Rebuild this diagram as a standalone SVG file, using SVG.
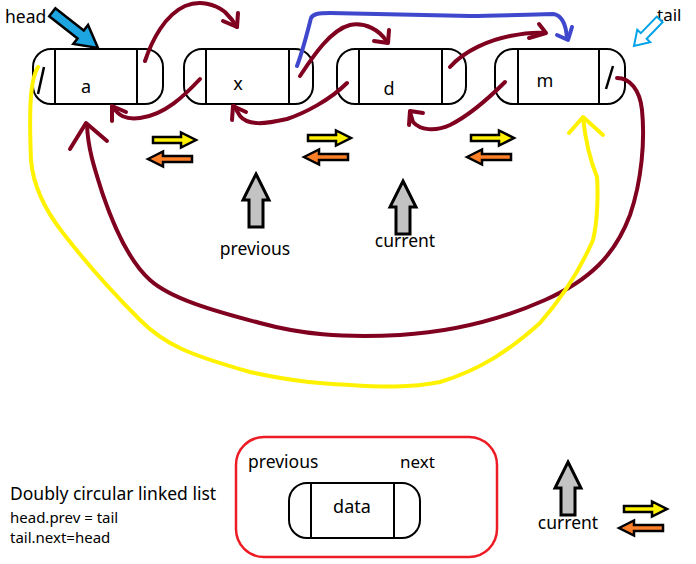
<svg xmlns="http://www.w3.org/2000/svg" width="696" height="564" viewBox="0 0 696 564">
<style>
.box{fill:#fff;stroke:#000;stroke-width:2}
.div{stroke:#000;stroke-width:2}
.t{font-family:"Noto Sans","Open Sans",sans-serif;fill:#000}
.mr{fill:none;stroke:#800020;stroke-width:4;stroke-linecap:round;stroke-linejoin:round}
.yl{fill:none;stroke:#fff200;stroke-width:4;stroke-linecap:round;stroke-linejoin:round}
.bl{fill:none;stroke:#3f48cc;stroke-width:4;stroke-linecap:round;stroke-linejoin:round}
.ya{fill:#fff200;stroke:#000;stroke-width:2.5;stroke-linejoin:miter}
.oa{fill:#ff7f27;stroke:#000;stroke-width:2.5;stroke-linejoin:miter}
.ga{fill:#c3c3c3;stroke:#000;stroke-width:3}
</style>
<defs>
<path id="yarr" d="M0,-3 H28 V-7.5 L43,0 L28,7.5 V3 H0 Z"/>
<path id="oarr" d="M0,0 L15,-7.5 V-3 H44 V3 H15 V7.5 Z"/>
<path id="garr" d="M0,0 L13,26 H7 V53 H-7 V26 H-13 Z"/>
</defs>
<rect width="696" height="564" fill="#fff"/>

<g id="node-a">
<rect class="box" x="33" y="49" width="130" height="55" rx="18"/>
<line class="div" x1="55" y1="49" x2="55" y2="104"/>
<line class="div" x1="137" y1="49" x2="137" y2="104"/>
<line stroke="#000" stroke-width="2.5" x1="38" y1="94" x2="44" y2="67"/>
<text class="t" x="86" y="93" font-size="18" text-anchor="middle">a</text>
</g>
<g id="node-x">
<rect class="box" x="184" y="49" width="129" height="55" rx="18"/>
<line class="div" x1="206" y1="49" x2="206" y2="104"/>
<line class="div" x1="289" y1="49" x2="289" y2="104"/>
<text class="t" x="238" y="90" font-size="18" text-anchor="middle">x</text>
</g>
<g id="node-d">
<rect class="box" x="337" y="49" width="129" height="55" rx="18"/>
<line class="div" x1="359" y1="49" x2="359" y2="104"/>
<line class="div" x1="442" y1="49" x2="442" y2="104"/>
<text class="t" x="389" y="95" font-size="18" text-anchor="middle">d</text>
</g>
<g id="node-m">
<rect class="box" x="495" y="49" width="130" height="55" rx="18"/>
<line class="div" x1="518" y1="49" x2="518" y2="104"/>
<line class="div" x1="599" y1="49" x2="599" y2="104"/>
<line stroke="#000" stroke-width="2.5" x1="606" y1="89" x2="613" y2="66"/>
<text class="t" x="545" y="87" font-size="18" text-anchor="middle">m</text>
</g>

<g id="head">
<text class="t" x="5" y="23" font-size="17.5">head</text>
<path transform="translate(98,48) rotate(38)" d="M0,0 L-22,-12 L-22,-5 L-58,-5 L-58,5 L-22,5 L-22,12 Z" fill="#1ca5e0" stroke="#000" stroke-width="2.5" stroke-linejoin="miter"/>
</g>
<g id="tail">
<text class="t" x="657" y="21" font-size="17">tail</text>
<path transform="translate(634,46) rotate(-46)" d="M0,0 L14,-9 L14,-4 L37,-4 L37,4 L14,4 L14,9 Z" fill="#fff" stroke="#00a2e8" stroke-width="2"/>
</g>

<g id="connectors">
<path class="mr" d="M145,61 C152,40 165,15 185,6 C200,0 215,4 225,12 C230,17 234,22 237,27"/>
<path class="mr" d="M223,21 L237,27 L238,13"/>
<path class="mr" d="M200,79 C185,95 165,115 140,118 C125,120 118,115 113,107"/>
<path class="mr" d="M112,121 L112,106 L126,112"/>
<path class="mr" d="M300,76 C312,58 330,30 350,25 C365,22 380,30 387,42"/>
<path class="mr" d="M374,41 L388,43 L389,30"/>
<path class="mr" d="M347,83 C330,100 305,113 287,119 C265,124 248,126 240,116 L234,106"/>
<path class="mr" d="M232,120 L233,106 L246,112"/>
<path class="mr" d="M450,67 C465,50 490,40 510,36 C525,33 535,32 545,33"/>
<path class="mr" d="M529,38 L546,33 L539,24"/>
<path class="mr" d="M505,82 C490,97 470,115 450,125 C435,132 420,130 413,122 L410,112"/>
<path class="mr" d="M409,125 L410,111 L423,113"/>
<path class="mr" d="M617,78 C630,78 640,90 642,110 C645,140 642,180 630,215 C615,255 590,280 545,300 C500,320 450,332 400,335 C340,338 300,334 260,323 C210,310 170,298 150,280 C130,262 115,230 103,195 C95,170 88,150 87,125"/>
<path class="mr" d="M70,149 L86,123 L107,141"/>
<path class="yl" d="M38,67 C30,80 29,110 31,160 C33,185 45,210 63,233 C80,255 100,280 140,320 C165,345 190,355 250,372 C300,383 330,384 350,385 C380,387 410,388 440,382 C480,370 510,350 540,323 C560,300 580,270 593,240 C598,220 598,190 597,177 C590,160 586,145 583,118"/>
<path class="yl" d="M569,133 L583,117 L603,135"/>
<path class="bl" d="M297,66 C303,50 308,30 311,18 C313,14 318,13 330,13 L470,16 C500,16 540,14 553,14 C562,15 566,25 567,38"/>
<path class="bl" d="M557,35 L568,40 L572,27"/>
</g>

<g id="pointers">
<use href="#yarr" class="ya" transform="translate(153,140)"/>
<use href="#oarr" class="oa" transform="translate(148,159)"/>
<use href="#yarr" class="ya" transform="translate(308,138)"/>
<use href="#oarr" class="oa" transform="translate(304,157)"/>
<use href="#yarr" class="ya" transform="translate(471,138)"/>
<use href="#oarr" class="oa" transform="translate(467,157)"/>
<use href="#garr" class="ga" transform="translate(256,174)"/>
<text class="t" x="255" y="255" font-size="17.5" text-anchor="middle">previous</text>
<use href="#garr" class="ga" transform="translate(403,181)"/>
<text class="t" x="405" y="247" font-size="17.5" text-anchor="middle">current</text>
</g>

<g id="legend">
<text class="t" x="10" y="500" font-size="17.5">Doubly circular linked list</text>
<text class="t" x="10" y="523" font-size="15">head.prev = tail</text>
<text class="t" x="10" y="543" font-size="15">tail.next=head</text>
<rect x="236" y="437" width="261" height="120" rx="28" fill="none" stroke="#ed1c24" stroke-width="2.5"/>
<text class="t" x="248" y="468" font-size="17.5">previous</text>
<text class="t" x="400" y="468" font-size="17">next</text>
<g id="node-data">
<rect class="box" x="289" y="483" width="131" height="55" rx="18"/>
<line class="div" x1="311" y1="483" x2="311" y2="538"/>
<line class="div" x1="394" y1="483" x2="394" y2="538"/>
<text class="t" x="352" y="513" font-size="18" text-anchor="middle">data</text>
</g>
<use href="#garr" class="ga" transform="translate(568,462)"/>
<text class="t" x="568" y="529" font-size="17.5" text-anchor="middle">current</text>
<use href="#yarr" class="ya" transform="translate(624,509)"/>
<use href="#oarr" class="oa" transform="translate(619,528)"/>
</g>
</svg>
